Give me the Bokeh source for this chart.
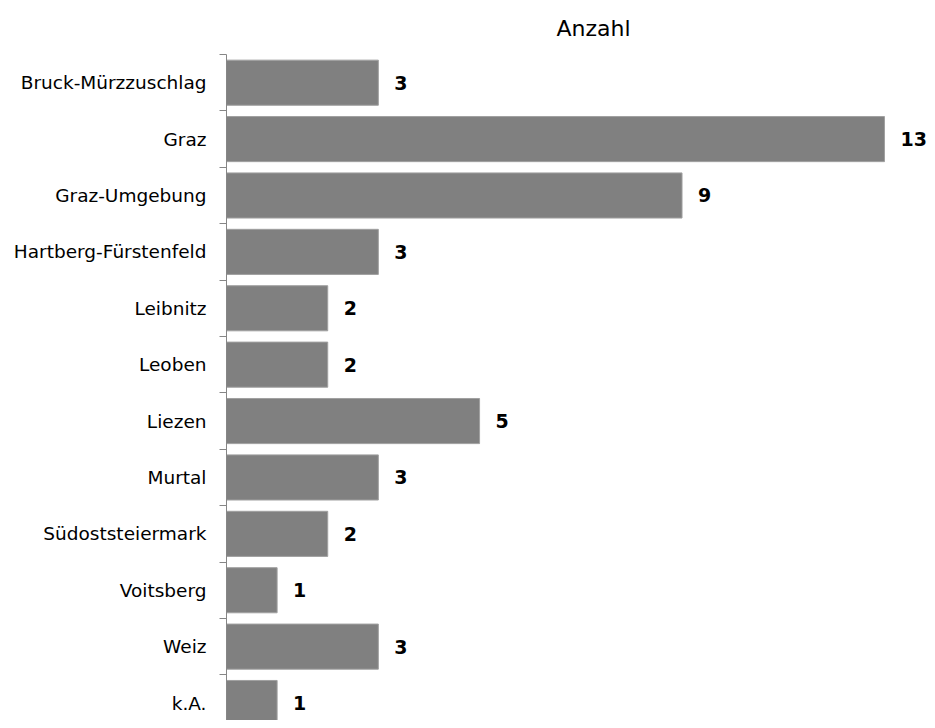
from bokeh.plotting import figure
from bokeh.models import ColumnDataSource, Range1d, FixedTicker
from bokeh.core.properties import value
from bokeh.embed import file_html
from bokeh.resources import INLINE

categories = ["Bruck-Mürzzuschlag", "Graz", "Graz-Umgebung", "Hartberg-Fürstenfeld",
              "Leibnitz", "Leoben", "Liezen", "Murtal", "Südoststeiermark",
              "Voitsberg", "Weiz", "k.A."]
counts = [3, 13, 9, 3, 2, 2, 5, 3, 2, 1, 3, 1]
title_text = "Anzahl"

pos = list(range(len(categories)))
src = ColumnDataSource(dict(y=pos, v=counts, lab=[str(c) for c in counts]))

p = figure(width=927, height=720, output_backend="svg", toolbar_location=None,
           x_range=Range1d(0, 13.85), y_range=Range1d(11.31, -0.5),
           x_axis_location=None, min_border_left=226, min_border_right=0,
           min_border_bottom=0, min_border_top=54)
p.outline_line_color = None
p.grid.visible = False
p.background_fill_color = "white"

p.hbar(y="y", right="v", left=0, height=0.8, source=src,
       fill_color="#808080", line_color="#a0a0a0", line_width=1)
p.text(x="v", y="y", text="lab", source=src, x_offset=16,
       text_align="left", text_baseline="middle",
       text_font=value("DejaVu Sans"), text_font_style="bold",
       text_font_size="19px", text_color="black")

ax = p.yaxis[0]
ax.ticker = FixedTicker(ticks=pos, minor_ticks=[i - 0.5 for i in range(len(categories) + 1)])
ax.major_label_overrides = {i: c for i, c in enumerate(categories)}
ax.major_tick_line_color = None
ax.major_tick_out = 0
ax.major_tick_in = 0
ax.minor_tick_out = 7
ax.minor_tick_in = 0
ax.minor_tick_line_color = "#868686"
ax.axis_line_color = "#868686"
ax.major_label_text_font = "DejaVu Sans"
ax.major_label_text_font_size = "18.5px"
ax.major_label_text_color = "black"
ax.major_label_standoff = 13

p.title.text = title_text
p.title.align = "right"
p.title.offset = 297
p.title.standoff = 27
p.title.text_font = "DejaVu Sans"
p.title.text_font_style = "normal"
p.title.text_font_size = "22px"
p.title.text_color = "black"

open("out.html", "w").write(file_html(p, INLINE))
